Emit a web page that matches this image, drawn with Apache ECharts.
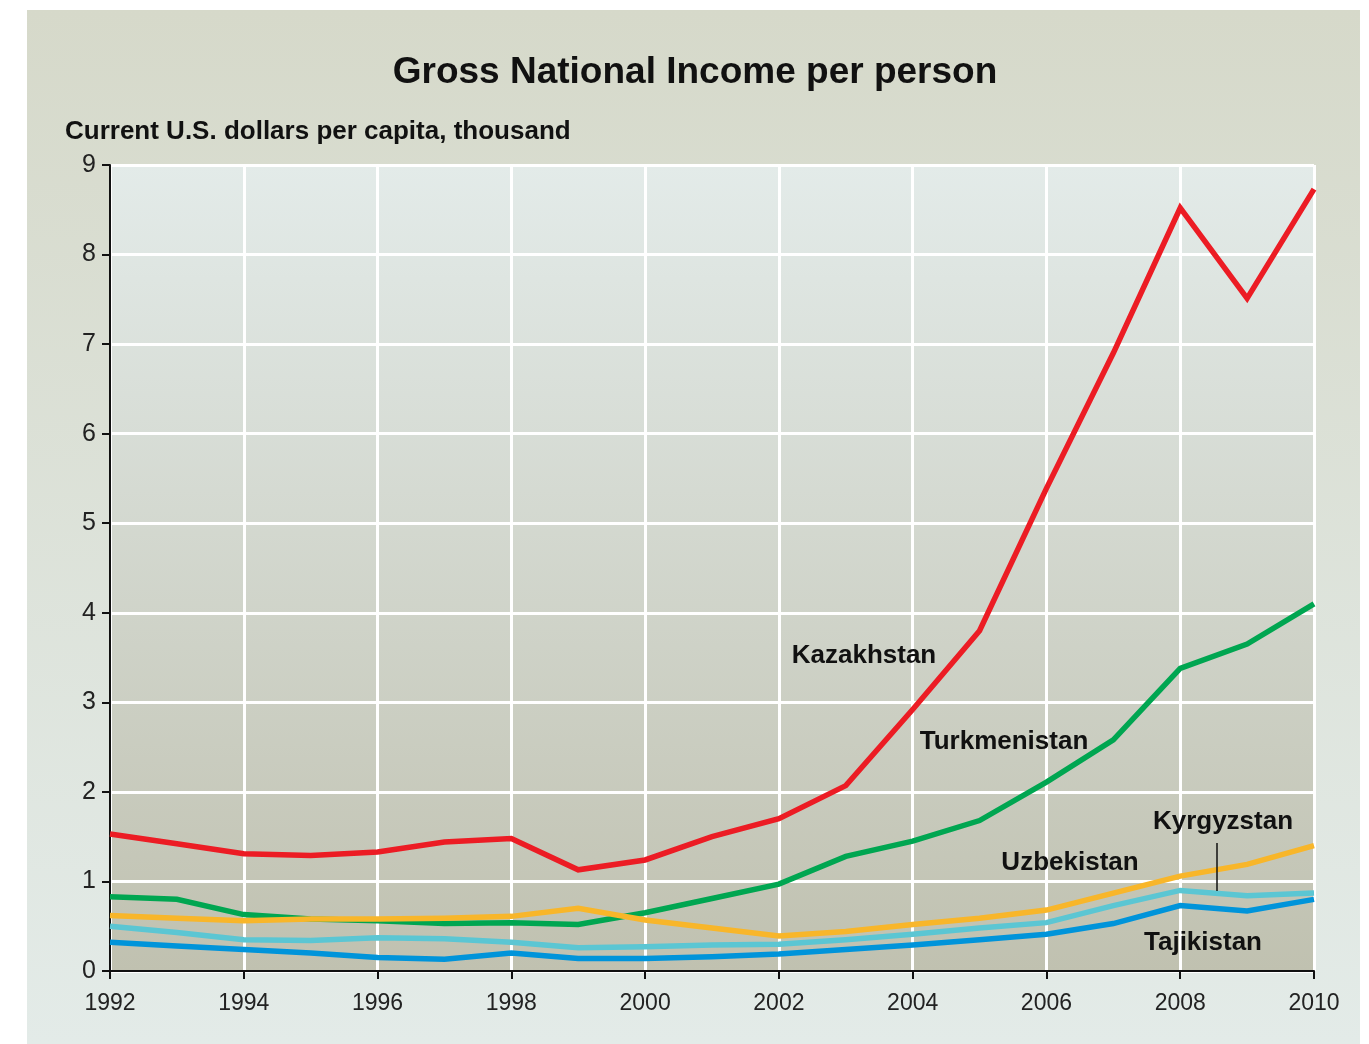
<!DOCTYPE html>
<html>
<head>
<meta charset="utf-8">
<title>Gross National Income per person</title>
<script src="https://cdn.jsdelivr.net/npm/echarts@6/dist/echarts.min.js"></script>
<style>
  html, body { margin: 0; padding: 0; background: #fff; }
  #chart { width: 1369px; height: 1044px; }
</style>
</head>
<body>
<div id="chart"></div>
<script>
// years on the x axis
const years = [1992, 1993, 1994, 1995, 1996, 1997, 1998, 1999, 2000, 2001,
               2002, 2003, 2004, 2005, 2006, 2007, 2008, 2009, 2010];

// GNI per capita, thousand current US$
const kazakhstan   = [1.53, 1.42, 1.31, 1.29, 1.33, 1.44, 1.48, 1.13, 1.24, 1.50,
                      1.70, 2.07, 2.92, 3.80, 5.39, 6.90, 8.52, 7.51, 8.73];
const turkmenistan = [0.83, 0.80, 0.63, 0.58, 0.56, 0.53, 0.54, 0.52, 0.65, 0.81,
                      0.97, 1.28, 1.45, 1.68, 2.11, 2.58, 3.38, 3.65, 4.10];
const uzbekistan   = [0.62, 0.59, 0.56, 0.58, 0.58, 0.59, 0.61, 0.70, 0.57, 0.48,
                      0.39, 0.44, 0.52, 0.59, 0.68, 0.87, 1.06, 1.19, 1.40];
const kyrgyzstan   = [0.50, 0.43, 0.35, 0.34, 0.37, 0.36, 0.32, 0.26, 0.27, 0.29,
                      0.30, 0.35, 0.41, 0.48, 0.54, 0.73, 0.90, 0.84, 0.87];
const tajikistan   = [0.32, 0.28, 0.24, 0.20, 0.15, 0.13, 0.20, 0.14, 0.14, 0.16,
                      0.19, 0.24, 0.29, 0.35, 0.41, 0.53, 0.73, 0.67, 0.80];

const yTicks = [0, 1, 2, 3, 4, 5, 6, 7, 8, 9];

let myChart = echarts.init(document.getElementById("chart"));

function pairs(vals) {
  return years.map((y, i) => [y, vals[i]]);
}

function makeLine(name, vals, color) {
  return {
    type: "line",
    name: name,
    data: pairs(vals),
    showSymbol: false,
    symbol: "none",
    lineStyle: { color: color, width: 5.5, join: "miter" },
    emphasis: { disabled: true },
  };
}

const labelFont = "'Liberation Sans', Arial, sans-serif";

function countryLabel(text, x, y) {
  return {
    type: "text",
    x: x,
    y: y,
    z: 100,
    style: {
      text: text,
      fill: "#111",
      font: "bold 26px " + labelFont,
      align: "center",
      verticalAlign: "middle",
    },
  };
}

myChart.setOption({
  animation: false,
  backgroundColor: "#fff",
  grid: {
    left: 110,
    right: 55,
    top: 165,
    bottom: 73,
    show: true,
    borderWidth: 0,
    // plot area fades from pale blue-grey to khaki
    backgroundColor: new echarts.graphic.LinearGradient(0, 0, 0, 1, [
      { offset: 0, color: "#e3ebe9" },
      { offset: 1, color: "#c0c1b0" },
    ]),
  },
  graphic: [
    {
      // outer panel
      type: "rect",
      z: -10,
      shape: { x: 27, y: 10, width: 1333, height: 1034 },
      style: {
        fill: new echarts.graphic.LinearGradient(0, 0, 0, 1, [
          { offset: 0, color: "#d6d9ca" },
          { offset: 1, color: "#e3ebe8" },
        ]),
      },
    },
    {
      type: "text",
      x: 695,
      y: 73,
      style: {
        text: "Gross National Income per person",
        fill: "#111",
        font: "bold 37px " + labelFont,
        align: "center",
        verticalAlign: "middle",
      },
    },
    {
      type: "text",
      x: 65,
      y: 132,
      style: {
        text: "Current U.S. dollars per capita, thousand",
        fill: "#111",
        font: "bold 26px " + labelFont,
        align: "left",
        verticalAlign: "middle",
      },
    },
    countryLabel("Kazakhstan", 864, 656),
    countryLabel("Turkmenistan", 1004, 742),
    countryLabel("Kyrgyzstan", 1223, 822),
    countryLabel("Uzbekistan", 1070, 863),
    countryLabel("Tajikistan", 1203, 943),
    {
      // leader line for Kyrgyzstan
      type: "line",
      z: 100,
      shape: { x1: 1217, y1: 843, x2: 1217, y2: 891 },
      style: { stroke: "#111", lineWidth: 1.5 },
    },
  ],
  xAxis: {
    type: "value",
    min: years[0],
    max: years[years.length - 1],
    interval: 2,
    axisLine: { show: true, onZero: false, lineStyle: { color: "#111", width: 2 } },
    axisTick: { show: true, length: 8, lineStyle: { color: "#111", width: 2 } },
    axisLabel: {
      color: "#222",
      fontSize: 23,
      fontFamily: labelFont,
      margin: 21,
      formatter: (v) => String(v),
    },
    splitLine: { show: true, lineStyle: { color: "#fff", width: 3 } },
  },
  yAxis: {
    type: "value",
    min: yTicks[0],
    max: yTicks[yTicks.length - 1],
    interval: 1,
    axisLine: { show: true, lineStyle: { color: "#111", width: 2 } },
    axisTick: { show: true, length: 8, lineStyle: { color: "#111", width: 2 } },
    axisLabel: {
      color: "#222",
      fontSize: 25,
      fontFamily: labelFont,
      margin: 14,
    },
    splitLine: { show: true, lineStyle: { color: "#fff", width: 3 } },
  },
  series: [
    makeLine("Tajikistan", tajikistan, "#0094da"),
    makeLine("Kyrgyzstan", kyrgyzstan, "#5bc6d3"),
    makeLine("Turkmenistan", turkmenistan, "#00a651"),
    makeLine("Uzbekistan", uzbekistan, "#f8b62a"),
    makeLine("Kazakhstan", kazakhstan, "#ec1c24"),
  ],
});

window.onresize = myChart.resize;
</script>
</body>
</html>
